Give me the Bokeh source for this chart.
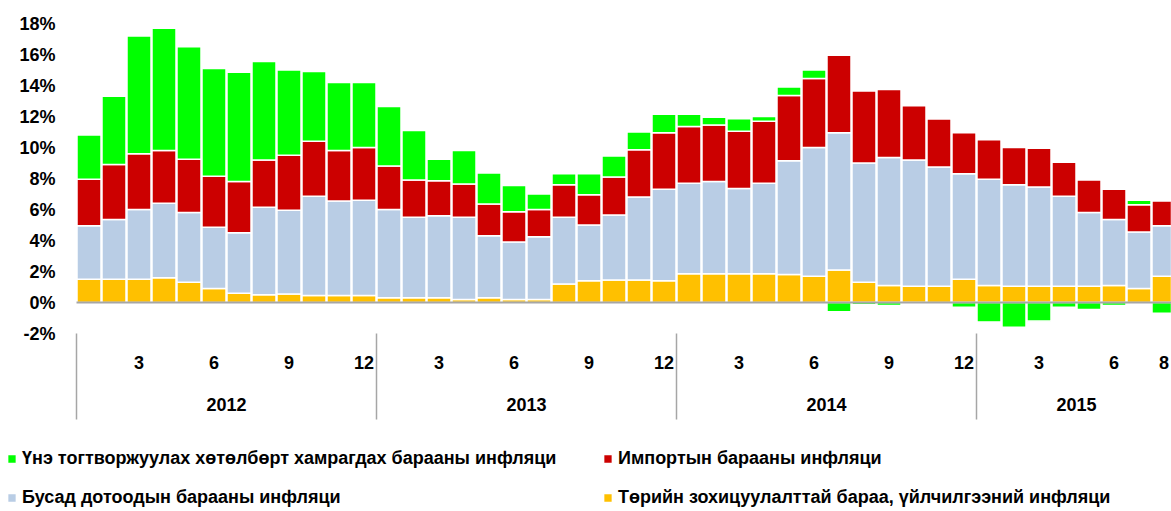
import numpy as np
from bokeh.plotting import figure
from bokeh.models import ColumnDataSource, Range1d, Legend, LegendItem
from bokeh.core.properties import value
from bokeh.embed import file_html
from bokeh.resources import INLINE

# ---------------- data ----------------
years = ["2012", "2013", "2014", "2015"]
months_per_year = [12, 12, 12, 8]

# Төрийн зохицуулалттай бараа, үйлчилгээний инфляци (yellow)
regulated = [1.5, 1.5, 1.5, 1.6, 1.3, 0.9, 0.6, 0.5, 0.55, 0.45, 0.45, 0.45,
             0.3, 0.3, 0.3, 0.2, 0.3, 0.2, 0.2, 1.2, 1.4, 1.45, 1.45, 1.4,
             1.85, 1.85, 1.85, 1.85, 1.8, 1.7, 2.1, 1.3, 1.1, 1.05, 1.05, 1.5,
             1.1, 1.05, 1.05, 1.05, 1.05, 1.1, 0.9, 1.7]
# Бусад дотоодын барааны инфляци (light blue)
other_domestic = [3.45, 3.85, 4.5, 4.8, 4.5, 3.95, 3.9, 5.65, 5.4, 6.4, 6.1, 6.15,
                  5.7, 5.2, 5.3, 5.3, 4.0, 3.7, 4.05, 4.3, 3.6, 4.2, 5.35, 5.9,
                  5.85, 5.95, 5.5, 5.85, 7.35, 8.3, 8.85, 7.7, 8.25, 8.15, 7.7, 6.8,
                  6.85, 6.55, 6.4, 5.8, 4.75, 4.25, 3.65, 3.25]
# Импортын барааны инфляци (red)
imported = [3.0, 3.55, 3.6, 3.4, 3.45, 3.3, 3.3, 3.05, 3.55, 3.55, 3.25, 3.4,
            2.8, 2.4, 2.25, 2.15, 2.05, 1.95, 1.75, 2.1, 1.95, 2.45, 3.05, 3.65,
            3.65, 3.65, 3.7, 4.0, 4.2, 4.45, 5.0, 4.65, 4.4, 3.5, 3.1, 2.65,
            2.55, 2.4, 2.5, 2.2, 2.1, 1.95, 1.75, 1.6]
# Үнэ тогтворжуулах хөтөлбөрт хамрагдах барааны инфляци (green)
stabilization = [2.85, 4.4, 7.6, 7.9, 7.25, 6.95, 7.05, 6.35, 5.5, 4.5, 4.4, 4.2,
                 3.85, 3.2, 1.4, 2.15, 2.0, 1.7, 1.0, 0.7, 1.35, 1.35, 1.15, 1.2,
                 0.8, 0.5, 0.8, 0.3, 0.55, 0.55, -0.6, -0.15, -0.2, -0.05, 0.0, -0.3,
                 -1.25, -1.6, -1.2, -0.3, -0.45, -0.2, 0.3, -0.7]

y_ticks = [-2, 0, 2, 4, 6, 8, 10, 12, 14, 16, 18]
y_tick_labels = [f"{t}%" for t in y_ticks]
month_label_set = [3, 6, 9, 12]

labels = {
    "green": "Үнэ тогтворжуулах хөтөлбөрт хамрагдах барааны инфляци",
    "red": "Импортын барааны инфляци",
    "blue": "Бусад дотоодын барааны инфляци",
    "yellow": "Төрийн зохицуулалттай бараа, үйлчилгээний инфляци",
}
colors = {"green": "#00FF00", "red": "#CC0000", "blue": "#B9CDE5", "yellow": "#FFC000"}

FONT = "Liberation Sans"
FS = "18px"

# ---------------- derived stacking ----------------
n = len(regulated)
x = np.arange(n)
yl = np.array(regulated)
bl = np.array(other_domestic)
rd = np.array(imported)
gr = np.array(stabilization)

y_top = yl
b_top = yl + bl
r_top = b_top + rd
g_bottom = np.where(gr >= 0, r_top, 0.0)
g_top = np.where(gr >= 0, r_top + gr, gr)

src = ColumnDataSource(dict(x=x, y0=np.zeros(n), y1=y_top, b1=b_top, r1=r_top,
                            gb=g_bottom, gt=g_top))

# month/year labels
mx, mt = [], []
sep_x = []
yx, yt = [], []
start = 0
for yr, m in zip(years, months_per_year):
    sep_x.append(start - 0.5)
    for k in range(1, m + 1):
        if k in month_label_set or (k == m and m != 12):
            mx.append(start + k - 1)
            mt.append(str(k))
    yx.append(start + m / 2 - 0.5)
    yt.append(yr)
    start += m
sep_x.append(start - 0.5)

# ---------------- figure ----------------
WIDTH, HEIGHT, TOP = 1171, 511, 13
PITCH = 25.0
PX_PER_PCT = 15.5
x_start = -0.5 - 76 / PITCH
x_end = x_start + WIDTH / PITCH
y_end = (302 - TOP) / PX_PER_PCT
y_start = (302 - HEIGHT) / PX_PER_PCT

p = figure(width=WIDTH, height=HEIGHT, output_backend="svg", toolbar_location=None,
           x_range=Range1d(x_start, x_end), y_range=Range1d(y_start, y_end),
           x_axis_location=None, y_axis_location=None, min_border_left=0, min_border_right=0,
           min_border_top=TOP, min_border_bottom=0)
p.outline_line_color = None
p.xgrid.visible = False
p.ygrid.visible = False

W = 0.96
common = dict(x="x", width=W, source=src, line_color="white", line_width=1.5)
r_y = p.vbar(bottom="y0", top="y1", fill_color=colors["yellow"], **common)
r_b = p.vbar(bottom="y1", top="b1", fill_color=colors["blue"], **common)
r_r = p.vbar(bottom="b1", top="r1", fill_color=colors["red"], **common)
r_g = p.vbar(bottom="gb", top="gt", fill_color=colors["green"], **common)

# zero line across the plotting area
p.segment(x0=[-0.5], y0=[0], x1=[x_end], y1=[0], line_color="#A6A6A6", line_width=2)

# value axis labels
label_x = -0.5 - 21 / PITCH
p.text(x=[label_x] * len(y_ticks), y=y_ticks, text=y_tick_labels, text_align="right",
       text_baseline="middle", text_font=value(FONT), text_font_style="bold",
       text_font_size=FS, text_color="black")

# category axis
p.segment(x0=sep_x, y0=[-2.0] * len(sep_x), x1=sep_x, y1=[-7.55] * len(sep_x),
          line_color="#A6A6A6", line_width=1.5)
p.text(x=mx, y=[-3.87] * len(mx), text=mt, text_align="center", text_baseline="middle",
       text_font=value(FONT), text_font_style="bold", text_font_size=FS, text_color="black")
p.text(x=yx, y=[-6.61] * len(yx), text=yt, text_align="center", text_baseline="middle",
       text_font=value(FONT), text_font_style="bold", text_font_size=FS, text_color="black")


def make_legend(key, rend, loc):
    lg = Legend(items=[LegendItem(label=labels[key], renderers=[rend])], location=loc,
                padding=0, margin=0, border_line_color=None, background_fill_alpha=0,
                glyph_width=11, glyph_height=11, label_standoff=5, label_height=20,
                label_text_font=FONT, label_text_font_style="bold",
                label_text_font_size=FS, label_text_color="black")
    p.add_layout(lg)


make_legend("green", r_g, (6, 42))
make_legend("red", r_r, (602, 42))
make_legend("blue", r_b, (6, 3))
make_legend("yellow", r_y, (602, 3))

open("out.html", "w").write(file_html(p, INLINE))
